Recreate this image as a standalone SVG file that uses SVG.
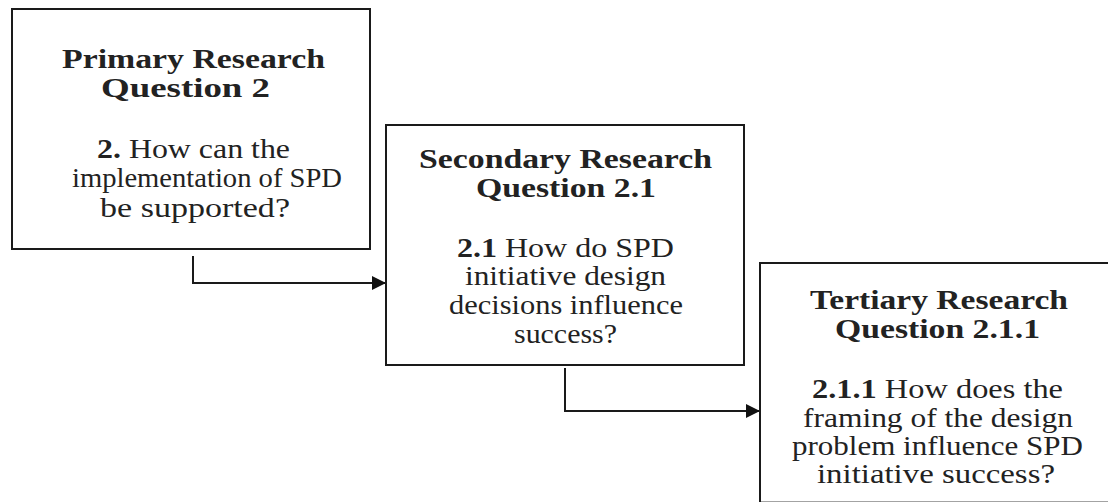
<svg xmlns="http://www.w3.org/2000/svg" width="1108" height="502" viewBox="0 0 1108 502">
  <style>
    .box { fill: #ffffff; stroke: #1a1a1a; stroke-width: 2; }
    .t { font-family: "Liberation Serif", "DejaVu Serif", serif; font-size: 27px; fill: #222222; }
    .b { font-weight: bold; }
    .wire { fill: none; stroke: #1a1a1a; stroke-width: 2; }
  </style>
  <defs>
    <marker id="arrow" viewBox="0 0 14 14" refX="14" refY="7" markerWidth="14" markerHeight="14" markerUnits="userSpaceOnUse" orient="auto">
      <path d="M0,0 L14,7 L0,14 Z" fill="#111111"/>
    </marker>
  </defs>
  <rect width="1108" height="502" fill="#ffffff"/>

  <g id="connectors">
    <path class="wire" d="M193,256 V283 H386" marker-end="url(#arrow)"/>
    <path class="wire" d="M565,368 V411 H760" marker-end="url(#arrow)"/>
  </g>

  <g id="primary">
    <rect class="box" x="12" y="9" width="358" height="240"/>
    <text class="t b" x="62" y="68" textLength="263" lengthAdjust="spacingAndGlyphs">Primary Research</text>
    <text class="t b" x="101" y="97" textLength="169" lengthAdjust="spacingAndGlyphs">Question 2</text>
    <text class="t" x="97" y="158" textLength="193" lengthAdjust="spacingAndGlyphs"><tspan class="b">2.</tspan> How can the</text>
    <text class="t" x="72" y="187" textLength="270" lengthAdjust="spacingAndGlyphs">implementation of SPD</text>
    <text class="t" x="100" y="217" textLength="190" lengthAdjust="spacingAndGlyphs">be supported?</text>
  </g>

  <g id="secondary">
    <rect class="box" x="386" y="125" width="358" height="240"/>
    <text class="t b" x="419" y="168" textLength="293" lengthAdjust="spacingAndGlyphs">Secondary Research</text>
    <text class="t b" x="476" y="197" textLength="180" lengthAdjust="spacingAndGlyphs">Question 2.1</text>
    <text class="t" x="457" y="257" textLength="217" lengthAdjust="spacingAndGlyphs"><tspan class="b">2.1</tspan> How do SPD</text>
    <text class="t" x="465" y="285" textLength="201" lengthAdjust="spacingAndGlyphs">initiative design</text>
    <text class="t" x="449" y="314" textLength="234" lengthAdjust="spacingAndGlyphs">decisions influence</text>
    <text class="t" x="514" y="343" textLength="103" lengthAdjust="spacingAndGlyphs">success?</text>
  </g>

  <g id="tertiary">
    <!-- box runs past the right and bottom edges of the canvas -->
    <rect class="box" x="760" y="263" width="380" height="239.6"/>
    <text class="t b" x="810" y="309" textLength="258" lengthAdjust="spacingAndGlyphs">Tertiary Research</text>
    <text class="t b" x="835" y="338" textLength="205" lengthAdjust="spacingAndGlyphs">Question 2.1.1</text>
    <text class="t" x="812" y="398" textLength="251" lengthAdjust="spacingAndGlyphs"><tspan class="b">2.1.1</tspan> How does the</text>
    <text class="t" x="803" y="427" textLength="270" lengthAdjust="spacingAndGlyphs">framing of the design</text>
    <text class="t" x="792" y="455" textLength="291" lengthAdjust="spacingAndGlyphs">problem influence SPD</text>
    <text class="t" x="817" y="483" textLength="238" lengthAdjust="spacingAndGlyphs">initiative success?</text>
  </g>
</svg>
